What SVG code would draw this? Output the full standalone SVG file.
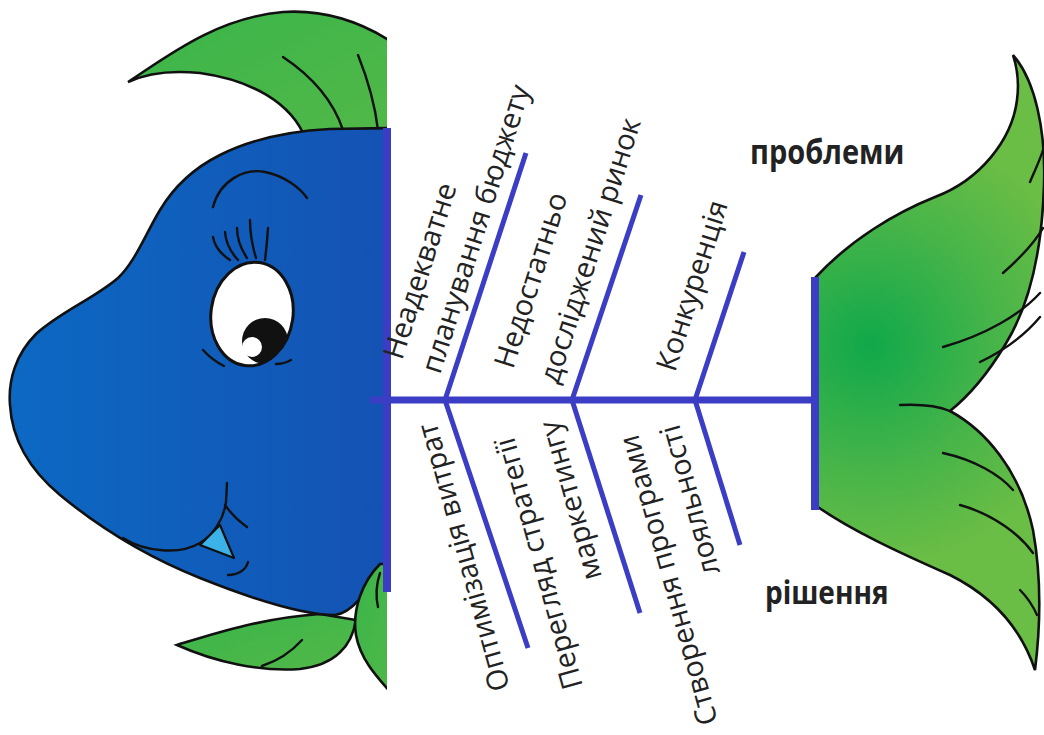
<svg xmlns="http://www.w3.org/2000/svg" width="1044" height="735" viewBox="0 0 1044 735">
  <defs>
    <linearGradient id="bodyFill" x1="0" y1="0" x2="1" y2="0">
      <stop offset="0" stop-color="#0c69c3"/>
      <stop offset="1" stop-color="#1452b3"/>
    </linearGradient>
    <radialGradient id="tailFill" cx="870" cy="345" r="220" gradientUnits="userSpaceOnUse">
      <stop offset="0" stop-color="#10a84b"/>
      <stop offset="0.55" stop-color="#45b449"/>
      <stop offset="1" stop-color="#6abd45"/>
    </radialGradient>
    <linearGradient id="finFill" x1="0" y1="0" x2="1" y2="1">
      <stop offset="0" stop-color="#3ab54a"/>
      <stop offset="1" stop-color="#52b848"/>
    </linearGradient>
    <clipPath id="headClip">
      <rect x="0" y="0" width="387" height="735"/>
    </clipPath>
    <clipPath id="eyeClip">
      <ellipse cx="252" cy="314" rx="41" ry="52" transform="rotate(8 252 314)"/>
    </clipPath>
  </defs>
  <style>
    .ink{fill:none;stroke:#111;stroke-width:2.4;stroke-linecap:round;stroke-linejoin:round}
    .outline{stroke:#111;stroke-width:2.6;stroke-linejoin:miter}
    .bone{stroke:#3b3dc4;stroke-width:5;fill:none}
    .bar{fill:#3b3dc4}
    .lbl{font-family:'Open Sans','Liberation Sans',sans-serif;font-size:29px;fill:#222}
    .cap{font-family:'Open Sans','Liberation Sans',sans-serif;font-weight:700;fill:#222}
  </style>

  <!-- head half of the fish, cut off at the vertical bar -->
  <g id="fish-head" clip-path="url(#headClip)">
    <!-- dorsal fin -->
    <path class="outline" fill="url(#finFill)" d="M 128,82 C 165,58 215,18 283,12 C 330,9 368,26 395,44 L 395,140 L 306,140 C 292,102 250,80 200,73 C 170,70 145,74 128,82 Z"/>
    <path class="ink" d="M 283,57 C 310,75 333,100 343,130"/>
    <path class="ink" d="M 358,55 C 368,80 375,105 378,130"/>
    <!-- lower fin -->
    <path class="outline" fill="url(#finFill)" d="M 177,645 C 210,635 260,618 320,614 L 356,620 C 352,645 336,665 300,669 C 260,672 215,662 177,645 Z"/>
    <path class="ink" d="M 262,666 C 280,660 293,650 302,640"/>
    <!-- body -->
    <path class="outline" fill="url(#bodyFill)" d="M 395,128 L 330,129 C 290,131 250,140 220,155 C 190,170 172,190 160,210 C 145,235 135,262 118,278 C 95,298 60,312 36,334 C 16,354 8,380 10,405 C 12,440 30,470 60,495 C 100,528 150,558 200,578 C 250,598 300,615 335,615 C 355,612 368,588 382,566 L 395,566 Z"/>
    <!-- pectoral fin -->
    <path class="outline" fill="url(#finFill)" d="M 380,564 C 362,582 352,610 356,635 C 360,658 375,675 392,694 L 400,694 L 400,564 Z"/>
    <path class="ink" d="M 380,573 C 376,585 376,598 378,607"/>

    <!-- eye -->
    <path class="ink" d="M 213,207 C 220,180 245,168 265,172 C 285,176 300,188 307,198"/>
    <path class="ink" stroke-width="2" d="M 230,260 Q 215,250 213,237"/>
    <path class="ink" stroke-width="2" d="M 238,260 Q 226,247 225,232"/>
    <path class="ink" stroke-width="2" d="M 247,258 Q 237,243 237,228"/>
    <path class="ink" stroke-width="2" d="M 256,258 Q 250,238 250,220"/>
    <path class="ink" stroke-width="2" d="M 265,260 Q 267,244 268,228"/>
    <ellipse cx="252" cy="314" rx="41" ry="52" transform="rotate(8 252 314)" fill="#fff" stroke="#111" stroke-width="3"/>
    <g clip-path="url(#eyeClip)">
      <ellipse cx="265" cy="341" rx="23" ry="23" fill="#111"/>
    </g>
    <circle cx="252" cy="347" r="10" fill="#fff"/>
    <path class="ink" stroke-width="1.8" d="M 203,350 Q 212,360 224,366"/>
    <path class="ink" stroke-width="1.8" d="M 276,364 Q 284,364 291,360"/>

    <!-- mouth -->
    <path class="ink" d="M 123,538 C 145,552 180,555 200,543 C 214,535 224,518 226,502 L 227,483"/>
    <path class="ink" d="M 225,505 C 232,515 240,522 247,527"/>
    <path d="M 200,545 L 220,525 L 234,558 Z" fill="#3bb3e8" stroke="#111" stroke-width="2.2" stroke-linejoin="round"/>
    <path class="ink" d="M 228,575 C 238,575 246,570 248,562"/>
  </g>

  <!-- tail fin -->
  <g id="tail">
    <path class="outline" fill="url(#tailFill)" d="M 815,278 C 850,240 895,213 935,197 C 980,180 1012,140 1017,100 C 1019,85 1018,70 1013,55 C 1035,80 1046,130 1044,185 C 1042,250 1030,305 1005,345 C 990,370 970,395 950,411 C 985,430 1020,470 1033,530 C 1042,580 1040,630 1035,670 C 1020,625 990,595 950,575 C 900,553 850,530 815,505 Z"/>
    <path class="ink" d="M 900,405 C 920,404 938,406 950,411"/>
    <path class="ink" d="M 1030,182 C 1035,170 1040,160 1043,150"/>
    <path class="ink" d="M 1003,273 C 1020,258 1033,245 1043,228"/>
    <path class="ink" d="M 943,347 C 985,335 1020,315 1040,293"/>
    <path class="ink" d="M 980,362 C 1005,350 1025,335 1040,317"/>
    <path class="ink" d="M 943,453 C 975,460 1000,475 1013,490"/>
    <path class="ink" d="M 960,505 C 995,515 1020,535 1033,553"/>
    <path class="ink" d="M 1020,590 C 1028,598 1033,606 1037,615"/>
  </g>

  <!-- skeleton: head bar, spine, tail bar and the six bones -->
  <g id="connectors">
    <rect class="bar" x="383" y="128" width="8" height="464"/>
    <rect class="bar" x="370" y="396.5" width="444" height="7"/>
    <rect class="bar" x="811" y="277" width="8" height="233"/>
    <line class="bone" x1="445" y1="400" x2="526" y2="153"/>
    <line class="bone" x1="572" y1="400" x2="641" y2="195"/>
    <line class="bone" x1="695" y1="400" x2="744" y2="252"/>
    <line class="bone" x1="445" y1="400" x2="528" y2="648"/>
    <line class="bone" x1="572" y1="400" x2="640" y2="613"/>
    <line class="bone" x1="695" y1="400" x2="740" y2="545"/>
  </g>

  <!-- problems, along the upper bones -->
  <g id="problem-budget">
    <text class="lbl" transform="translate(402,361) rotate(-72.5)">Неадекватне</text>
    <text class="lbl" transform="translate(440,375) rotate(-72.5)">планування бюджету</text>
  </g>
  <g id="problem-market">
    <text class="lbl" transform="translate(513,370) rotate(-72.5)">Недостатньо</text>
    <text class="lbl" transform="translate(558,385) rotate(-72.5)">досліджений ринок</text>
  </g>
  <g id="problem-competition">
    <text class="lbl" transform="translate(675,373) rotate(-72.5)">Конкуренція</text>
  </g>

  <!-- solutions, along the lower bones -->
  <g id="solution-costs">
    <text class="lbl" transform="translate(510,688) rotate(-105.5)">Оптимізація витрат</text>
  </g>
  <g id="solution-strategy">
    <text class="lbl" transform="translate(583,686) rotate(-105.5)">Перегляд стратегії</text>
    <text class="lbl" transform="translate(602,577) rotate(-105.5)">маркетингу</text>
  </g>
  <g id="solution-loyalty">
    <text class="lbl" transform="translate(718,722) rotate(-105.5)">Створення програми</text>
    <text class="lbl" transform="translate(720,572) rotate(-105.5)">лояльності</text>
  </g>

  <!-- side captions -->
  <g id="caption-problems">
    <text class="cap" font-size="29" transform="translate(750,164) scale(1,1.15)">проблеми</text>
  </g>
  <g id="caption-solutions">
    <text class="cap" font-size="28" transform="translate(765,604) scale(1,1.15)">рішення</text>
  </g>
</svg>
